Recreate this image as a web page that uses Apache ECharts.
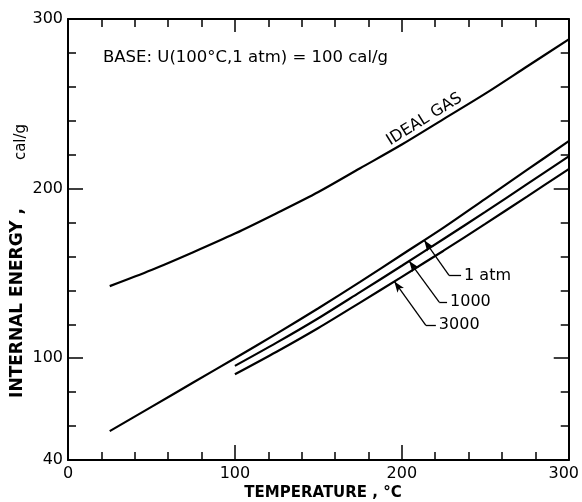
<!DOCTYPE html>
<html>
<head>
<meta charset="utf-8">
<script src="https://cdn.jsdelivr.net/npm/echarts@6/dist/echarts.min.js"></script>
<style>html,body{margin:0;padding:0;background:#fff}#c{width:582px;height:502px}</style>
</head>
<body>
<div id="c"></div>
<script>
// ---- data ----
const tempLow = [25, 50, 75, 100, 125, 150, 175, 200, 225, 250, 275, 300];
const uIdealGas = [142.5, 152, 162.5, 173.5, 185.5, 198, 212, 226, 241, 256, 272, 288];
const u1atm = [57, 71.3, 85.7, 100, 114.5, 129.5, 145, 161, 177, 194, 211, 228];
const tempHigh = [100, 125, 150, 175, 200, 225, 250, 275, 300];
const u1000 = [95.5, 109.2, 123.6, 139, 154.5, 170.3, 186.3, 202.6, 219];
const u3000 = [90.5, 103.8, 117.8, 132.8, 148, 163.4, 179.2, 195.3, 211.5];
const xTickLabels = [0, 100, 200, 300];
const yTickLabels = [40, 100, 200, 300];
const yMajorTicks = [100, 200];
// pressure labels and their leader lines (data units)
const pressureLabels = ['1 atm', '1000', '3000'];
const leaderTipX = [213.4, 204.4, 195.5];
const leaderBend = [[228.3, 148.8], [222.4, 133.1], [214.4, 119.4]];
const leaderEnd = [[235.5, 148.8], [227.1, 133.1], [220.4, 119.4]];
const idealGasLabelAt = [213.5, 240.8];

const FONT = 'DejaVu Sans';
const zip = (xs, ys) => xs.map((x, i) => [x, ys[i]]);
function interp(xs, ys, x) {
  for (let i = 0; i < xs.length - 1; i++) {
    if (x >= xs[i] && x <= xs[i + 1]) {
      const t = (x - xs[i]) / (xs[i + 1] - xs[i]);
      return ys[i] + t * (ys[i + 1] - ys[i]);
    }
  }
  return ys[ys.length - 1];
}
const pressureSeries = [[tempLow, u1atm], [tempHigh, u1000], [tempHigh, u3000]];
const leaderLines = [];
const labelPoints = [];
pressureLabels.forEach((lab, i) => {
  const [xs, ys] = pressureSeries[i];
  const tip = [leaderTipX[i], interp(xs, ys, leaderTipX[i])];
  leaderLines.push([{ coord: tip, symbol: 'arrow' }, { coord: leaderBend[i], symbol: 'none' }]);
  leaderLines.push([{ coord: leaderBend[i], symbol: 'none' }, { coord: leaderEnd[i], symbol: 'none' }]);
  labelPoints.push({ coord: leaderEnd[i], value: lab });
});

const chart = echarts.init(document.getElementById('c'), null, { renderer: 'canvas' });
const axisLineStyle = { color: '#000', width: 2 };
const tickStyle = { color: '#000', width: 1.5 };

const lineSeries = (data, name) => ({
  type: 'line', name, data, smooth: 0.3, showSymbol: false, symbol: 'none',
  lineStyle: { color: '#000', width: 2.2 }, silent: true, animation: false,
  xAxisIndex: 0, yAxisIndex: 0
});

const option = {
  animation: false,
  backgroundColor: '#fff',
  title: {
    text: 'BASE: U(100°C,1 atm) = 100 cal/g',
    left: 103, top: 49, padding: 0,
    textStyle: { fontFamily: FONT, fontSize: 16.5, fontWeight: 'normal', color: '#000' }
  },
  grid: { left: 68, right: 12, top: 19, bottom: 42, containLabel: false },
  xAxis: [
    {
      type: 'value', position: 'bottom', min: 0, max: 300, interval: 100,
      axisLine: { show: true, onZero: false, lineStyle: axisLineStyle },
      axisTick: { show: true, inside: true, length: 15, lineStyle: tickStyle },
      minorTick: { show: true, splitNumber: 5, length: 8, lineStyle: tickStyle },
      splitLine: { show: false }, minorSplitLine: { show: false },
      axisLabel: {
        show: true, margin: 6, color: '#000', fontFamily: FONT, fontSize: 16,
        formatter: v => (v === 300 ? '{r|' + v + '}' : (xTickLabels.includes(v) ? String(v) : '')),
        rich: { r: { fontFamily: FONT, fontSize: 16, color: '#000', padding: [0, 10, 0, 0] } }
      }
    },
    {
      type: 'value', position: 'top', min: 0, max: 300, interval: 100,
      axisLine: { show: true, onZero: false, lineStyle: axisLineStyle },
      axisTick: { show: true, inside: true, length: 13, lineStyle: tickStyle },
      minorTick: { show: true, splitNumber: 5, length: 8, lineStyle: tickStyle },
      splitLine: { show: false }, axisLabel: { show: false }
    }
  ],
  yAxis: [
    {
      type: 'value', position: 'left', min: 40, max: 300, interval: 20,
      axisLine: { show: true, onZero: false, lineStyle: axisLineStyle },
      axisTick: { show: true, inside: true, length: 8, lineStyle: tickStyle },
      splitLine: { show: false },
      axisLabel: {
        show: true, margin: 5, color: '#000', fontFamily: FONT, fontSize: 16,
        formatter: v => (yTickLabels.includes(v) ? String(v) : '')
      }
    },
    {
      type: 'value', position: 'right', min: 40, max: 300, interval: 20,
      axisLine: { show: true, onZero: false, lineStyle: axisLineStyle },
      axisTick: { show: true, inside: true, length: 8, lineStyle: tickStyle },
      splitLine: { show: false }, axisLabel: { show: false }
    },
    {
      type: 'value', position: 'left', offset: 0, min: 40, max: 300, interval: 20,
      axisLine: { show: false, onZero: false },
      axisTick: { show: true, inside: true, length: 15, lineStyle: tickStyle, customValues: yMajorTicks },
      splitLine: { show: false }, axisLabel: { show: false }
    },
    {
      type: 'value', position: 'right', offset: 0, min: 40, max: 300, interval: 20,
      axisLine: { show: false, onZero: false },
      axisTick: { show: true, inside: true, length: 15, lineStyle: tickStyle, customValues: yMajorTicks },
      splitLine: { show: false }, axisLabel: { show: false }
    }
  ],
  graphic: [
    {
      type: 'text', x: 323, y: 493,
      style: { text: 'TEMPERATURE , °C', fontFamily: FONT, fontSize: 15, fontWeight: 'bold', fill: '#000', align: 'center', verticalAlign: 'middle' }
    },
    {
      type: 'text', x: 18, y: 303, rotation: Math.PI / 2,
      style: { text: 'INTERNAL ENERGY ,', fontFamily: FONT, fontSize: 17, fontWeight: 'bold', fill: '#000', align: 'center', verticalAlign: 'middle' }
    },
    {
      type: 'text', x: 21, y: 142, rotation: Math.PI / 2,
      style: { text: 'cal/g', fontFamily: FONT, fontSize: 15, fill: '#000', align: 'center', verticalAlign: 'middle' }
    }
  ],
  series: [
    Object.assign(lineSeries(zip(tempLow, uIdealGas), 'Ideal gas'), {
      markPoint: {
        silent: true, symbol: 'circle', symbolSize: 0,
        data: [{ coord: idealGasLabelAt, value: 'IDEAL GAS' }],
        label: { show: true, position: 'inside', rotate: 32, formatter: 'IDEAL GAS', color: '#000', fontFamily: FONT, fontSize: 16 }
      }
    }),
    lineSeries(zip(tempLow, u1atm), '1 atm'),
    lineSeries(zip(tempHigh, u1000), '1000 atm'),
    lineSeries(zip(tempHigh, u3000), '3000 atm'),
    {
      type: 'line', name: 'labels', data: [], xAxisIndex: 0, yAxisIndex: 0, silent: true,
      markLine: {
        silent: true, animation: false, symbolSize: [6, 11],
        lineStyle: { color: '#000', width: 1.3, type: 'solid' },
        label: { show: false },
        data: leaderLines
      },
      markPoint: {
        silent: true, symbol: 'circle', symbolSize: 0,
        data: labelPoints,
        label: { show: true, position: 'right', distance: 3, formatter: p => p.value, color: '#000', fontFamily: FONT, fontSize: 16 }
      }
    }
  ]
};
chart.setOption(option);
</script>
</body>
</html>
